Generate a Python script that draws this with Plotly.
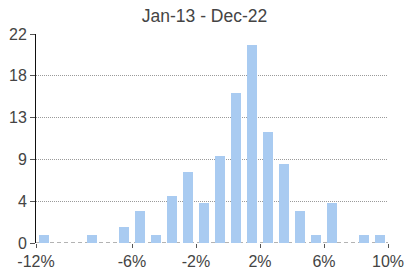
import plotly.graph_objects as go

# Monthly return bins (bin centres, %) and share of months (%)
bin_centres = [-11.5, -10.5, -9.5, -8.5, -7.5, -6.5, -5.5, -4.5, -3.5, -2.5, -1.5,
               -0.5, 0.5, 1.5, 2.5, 3.5, 4.5, 5.5, 6.5, 7.5, 8.5, 9.5]
share_pct = [0.83, 0, 0, 0.83, 0, 1.67, 3.33, 0.83, 5.0, 7.5, 4.17,
             9.17, 15.83, 20.83, 11.67, 8.33, 3.33, 0.83, 4.17, 0, 0.83, 0.83]

x_tick_vals = [-12, -6, -2, 2, 6, 10]
x_tick_text = ["-12%", "-6%", "-2%", "2%", "6%", "10%"]
y_tick_vals = [0, 4.4, 8.8, 13.2, 17.6, 22]
y_tick_text = ["0", "4", "9", "13", "18", "22"]
title_text = "Jan-13 - Dec-22"

fig = go.Figure()
fig.add_trace(go.Bar(
    x=bin_centres, y=share_pct, width=0.67,
    marker=dict(color="#a9cbf1", line=dict(width=0)),
    hoverinfo="skip",
))

fig.add_shape(type="line", xref="x", yref="y", x0=-12, x1=10, y0=0, y1=0,
              line=dict(color="#666666", width=1, dash="4px,3px"), layer="below")

fig.update_layout(
    width=405, height=276,
    margin=dict(l=36, r=17, t=34, b=33, autoexpand=False),
    paper_bgcolor="white", plot_bgcolor="white",
    showlegend=False,
    font=dict(family="Liberation Sans, Arial, sans-serif", size=16, color="#444444"),
    title=dict(text=title_text, x=0.505, xanchor="center",
               yref="container", y=1 - 16 / 276, yanchor="middle",
               font=dict(size=17.5, color="#444444")),
    bargap=0,
)
fig.update_xaxes(
    range=[-12, 10], tickvals=x_tick_vals, ticktext=x_tick_text,
    showgrid=False, zeroline=False, showline=False, automargin=False,
    ticklabeloverflow="allow",
    ticks="outside", ticklen=4, tickcolor="#555555", tickwidth=1,
    tickfont=dict(size=16, color="#444444"),
)
fig.update_yaxes(
    range=[0, 22], tickvals=y_tick_vals, ticktext=y_tick_text,
    showgrid=True, gridcolor="#9a9a9a", griddash="1px,1px", gridwidth=1,
    zeroline=False, showline=True, linecolor="#111111", linewidth=1,
    automargin=False, ticklabeloverflow="allow",
    ticks="outside", ticklen=5, tickcolor="#555555", tickwidth=1,
    tickfont=dict(size=16, color="#444444"),
)

fig.write_html(
    "out.html",
    config={"displayModeBar": False, "staticPlot": True},
    post_script="document.body.style.margin='0';document.body.style.overflow='hidden';",
)
